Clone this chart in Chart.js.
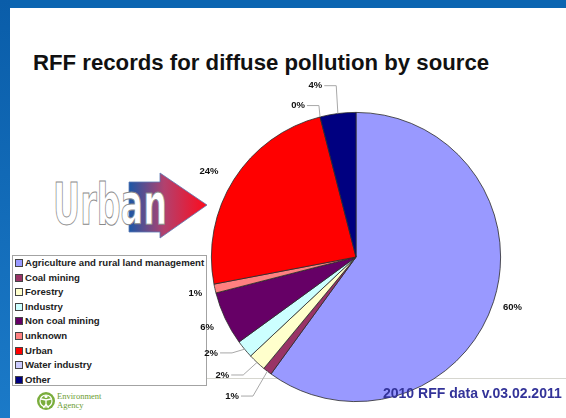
<!DOCTYPE html>
<html>
<head>
<meta charset="utf-8">
<script src="https://cdn.jsdelivr.net/npm/chart.js@4.4.1/dist/chart.umd.min.js"></script>
<style>
body { margin: 0; background: #fff; }
#slide { position: relative; width: 566px; height: 418px; overflow: hidden; background: #fff; font-family: "Liberation Sans", Arial, sans-serif; }
#slide svg, #slide canvas { position: absolute; left: 0; top: 0; }
#back { z-index: 0; }
#legend { position: absolute; z-index: 1; left: 12px; top: 255px; width: 195px; height: 131px; box-sizing: border-box;
  border: 1px solid #a3a3a3; background: #fff; }
#legend .row { height: 14.6px; line-height: 14.6px; font-size: 9.6px; font-weight: bold; color: #222; padding-left: 2px; white-space: nowrap; }
#legend .sw { display: inline-block; width: 6px; height: 6px; border: 1px solid #444; margin-right: 2px; vertical-align: -1px; }
#pie { z-index: 2; }
#front { z-index: 3; pointer-events: none; }
</style>
</head>
<body>
<div id="slide">
  <svg id="back" width="566" height="418">
    <defs>
      <linearGradient id="edge" x1="0" y1="0" x2="0" y2="1">
        <stop offset="0" stop-color="#0a5da9"/>
        <stop offset="1" stop-color="#1b7ac8"/>
      </linearGradient>
      <linearGradient id="arrowFill" x1="129" y1="0" x2="207" y2="0" gradientUnits="userSpaceOnUse">
        <stop offset="0" stop-color="#1b57a6"/>
        <stop offset="0.45" stop-color="#b2416e"/>
        <stop offset="1" stop-color="#ff0a1c"/>
      </linearGradient>
    </defs>
    <rect x="0" y="0" width="566" height="8" fill="#0b65b1"/>
    <rect x="0" y="0" width="10" height="418" fill="url(#edge)"/>
    <line x1="207" y1="378.5" x2="566" y2="378.5" stroke="#d6d6cf" stroke-width="1"/>
    <text x="33" y="70" font-family="Liberation Sans, Arial, sans-serif" font-weight="bold" font-size="22.2" fill="#111">RFF records for diffuse pollution by source</text>
    <!-- Urban call-out arrow -->
    <polygon points="129,182 160,182 160,173 207,205 160,238 160,232 129,232" fill="url(#arrowFill)" stroke="#5b78b4" stroke-width="0.8"/>
    <text x="53" y="224" font-family="DejaVu Sans Condensed, DejaVu Sans, sans-serif" font-weight="bold" font-size="57"
      textLength="114" lengthAdjust="spacingAndGlyphs" fill="#fff" stroke="#8a8a8a" stroke-width="1">Urban</text>
    <!-- agency logo -->
    <circle cx="46" cy="401" r="9" fill="#7aad3c"/>
    <circle cx="46" cy="401" r="6" fill="none" stroke="#fff" stroke-width="1.2"/>
    <circle cx="46" cy="396.5" r="1.6" fill="#fff"/>
    <path d="M41 399 L46 400 L51 399 M46 400 L46 404 L43.5 408 M46 404 L48.5 408" fill="none" stroke="#fff" stroke-width="1.3"/>
    <text x="57" y="399" font-family="Liberation Serif, serif" font-size="8.5" fill="#6c9d33">Environment</text>
    <text x="57" y="408" font-family="Liberation Serif, serif" font-size="8.5" fill="#6c9d33">Agency</text>
  </svg>
  <div id="legend"></div>
  <canvas id="pie" width="566" height="418"></canvas>
  <svg id="front" width="566" height="418">
    <text x="383" y="398" font-family="Liberation Sans, Arial, sans-serif" font-weight="bold" font-size="14" fill="#333399">2010 RFF data v.03.02.2011</text>
  </svg>
</div>
<script>
// share of RFF diffuse pollution records, per cent, by source
var sources = [
	"Agriculture and rural land management",
	"Coal mining",
	"Forestry",
	"Industry",
	"Non coal mining",
	"unknown",
	"Urban",
	"Water industry",
	"Other",
];
var shares = [60, 1, 2, 2, 6, 1, 24, 0, 4];
var sliceColours = [
	"#9999FF", "#993366", "#FFFFCC", "#CCFFFF", "#660066",
	"#FF8080", "#FF0000", "#CCCCFF", "#000080",
];

// legend box on the left
var legendBox = document.getElementById("legend");
sources.forEach(function (name, i) {
	var row = document.createElement("div");
	row.className = "row";
	var sw = document.createElement("span");
	sw.className = "sw";
	sw.style.background = sliceColours[i];
	row.appendChild(sw);
	row.appendChild(document.createTextNode(name));
	legendBox.appendChild(row);
});

// percentage labels outside the pie, small slices pulled aside with a leader line
var pctLabels = {
	id: "pctLabels",
	afterDatasetsDraw: function (chart, args, opts) {
		var ctx = chart.ctx;
		var arcs = chart.getDatasetMeta(0).data;
		var values = chart.data.datasets[0].data;
		var total = values.reduce(function (a, b) { return a + b; }, 0);
		ctx.save();
		ctx.font = "bold 9.5px 'Liberation Sans', Arial, sans-serif";
		ctx.textAlign = "center";
		ctx.textBaseline = "middle";
		arcs.forEach(function (arc, i) {
			var p = arc.getProps(["x", "y", "startAngle", "endAngle", "outerRadius"], true);
			var mid = (p.startAngle + p.endAngle) / 2;
			var r = p.outerRadius + opts.gap;
			var shift = opts.shift[i] || [0, 0];
			var lx = p.x + Math.cos(mid) * r + shift[0];
			var ly = p.y + Math.sin(mid) * r + shift[1];
			var txt = Math.round((values[i] / total) * 100) + "%";
			if (Math.hypot(shift[0], shift[1]) > 10) {
				var right = lx + ctx.measureText(txt).width / 2 + 2;
				ctx.strokeStyle = "#a8a8a8";
				ctx.lineWidth = 1;
				ctx.beginPath();
				ctx.moveTo(right, ly);
				ctx.lineTo(right + 12, ly);
				ctx.lineTo(p.x + Math.cos(mid) * p.outerRadius, p.y + Math.sin(mid) * p.outerRadius);
				ctx.stroke();
			}
			ctx.fillStyle = "#111";
			ctx.fillText(txt, lx, ly);
		});
		ctx.restore();
	},
};

new Chart(document.getElementById("pie").getContext("2d"), {
	type: "pie",
	data: {
		labels: sources,
		datasets: [
			{
				data: shares,
				backgroundColor: sliceColours,
				borderColor: "#2a2a2a",
				borderWidth: 0.8,
			},
		],
	},
	options: {
		responsive: false,
		animation: false,
		devicePixelRatio: 1,
		layout: { padding: { left: 211, right: 65, top: 112, bottom: 16 } },
		plugins: {
			legend: { display: false },
			tooltip: { enabled: false },
			pctLabels: {
				gap: 20,
				shift: [[0, 0], [-23, 9], [-21, -2], [-18, -9], [0, 0], [0, 0], [-8, 3], [-17, 8], [-20, -8]],
			},
		},
	},
	plugins: [pctLabels],
});
</script>
</body>
</html>
